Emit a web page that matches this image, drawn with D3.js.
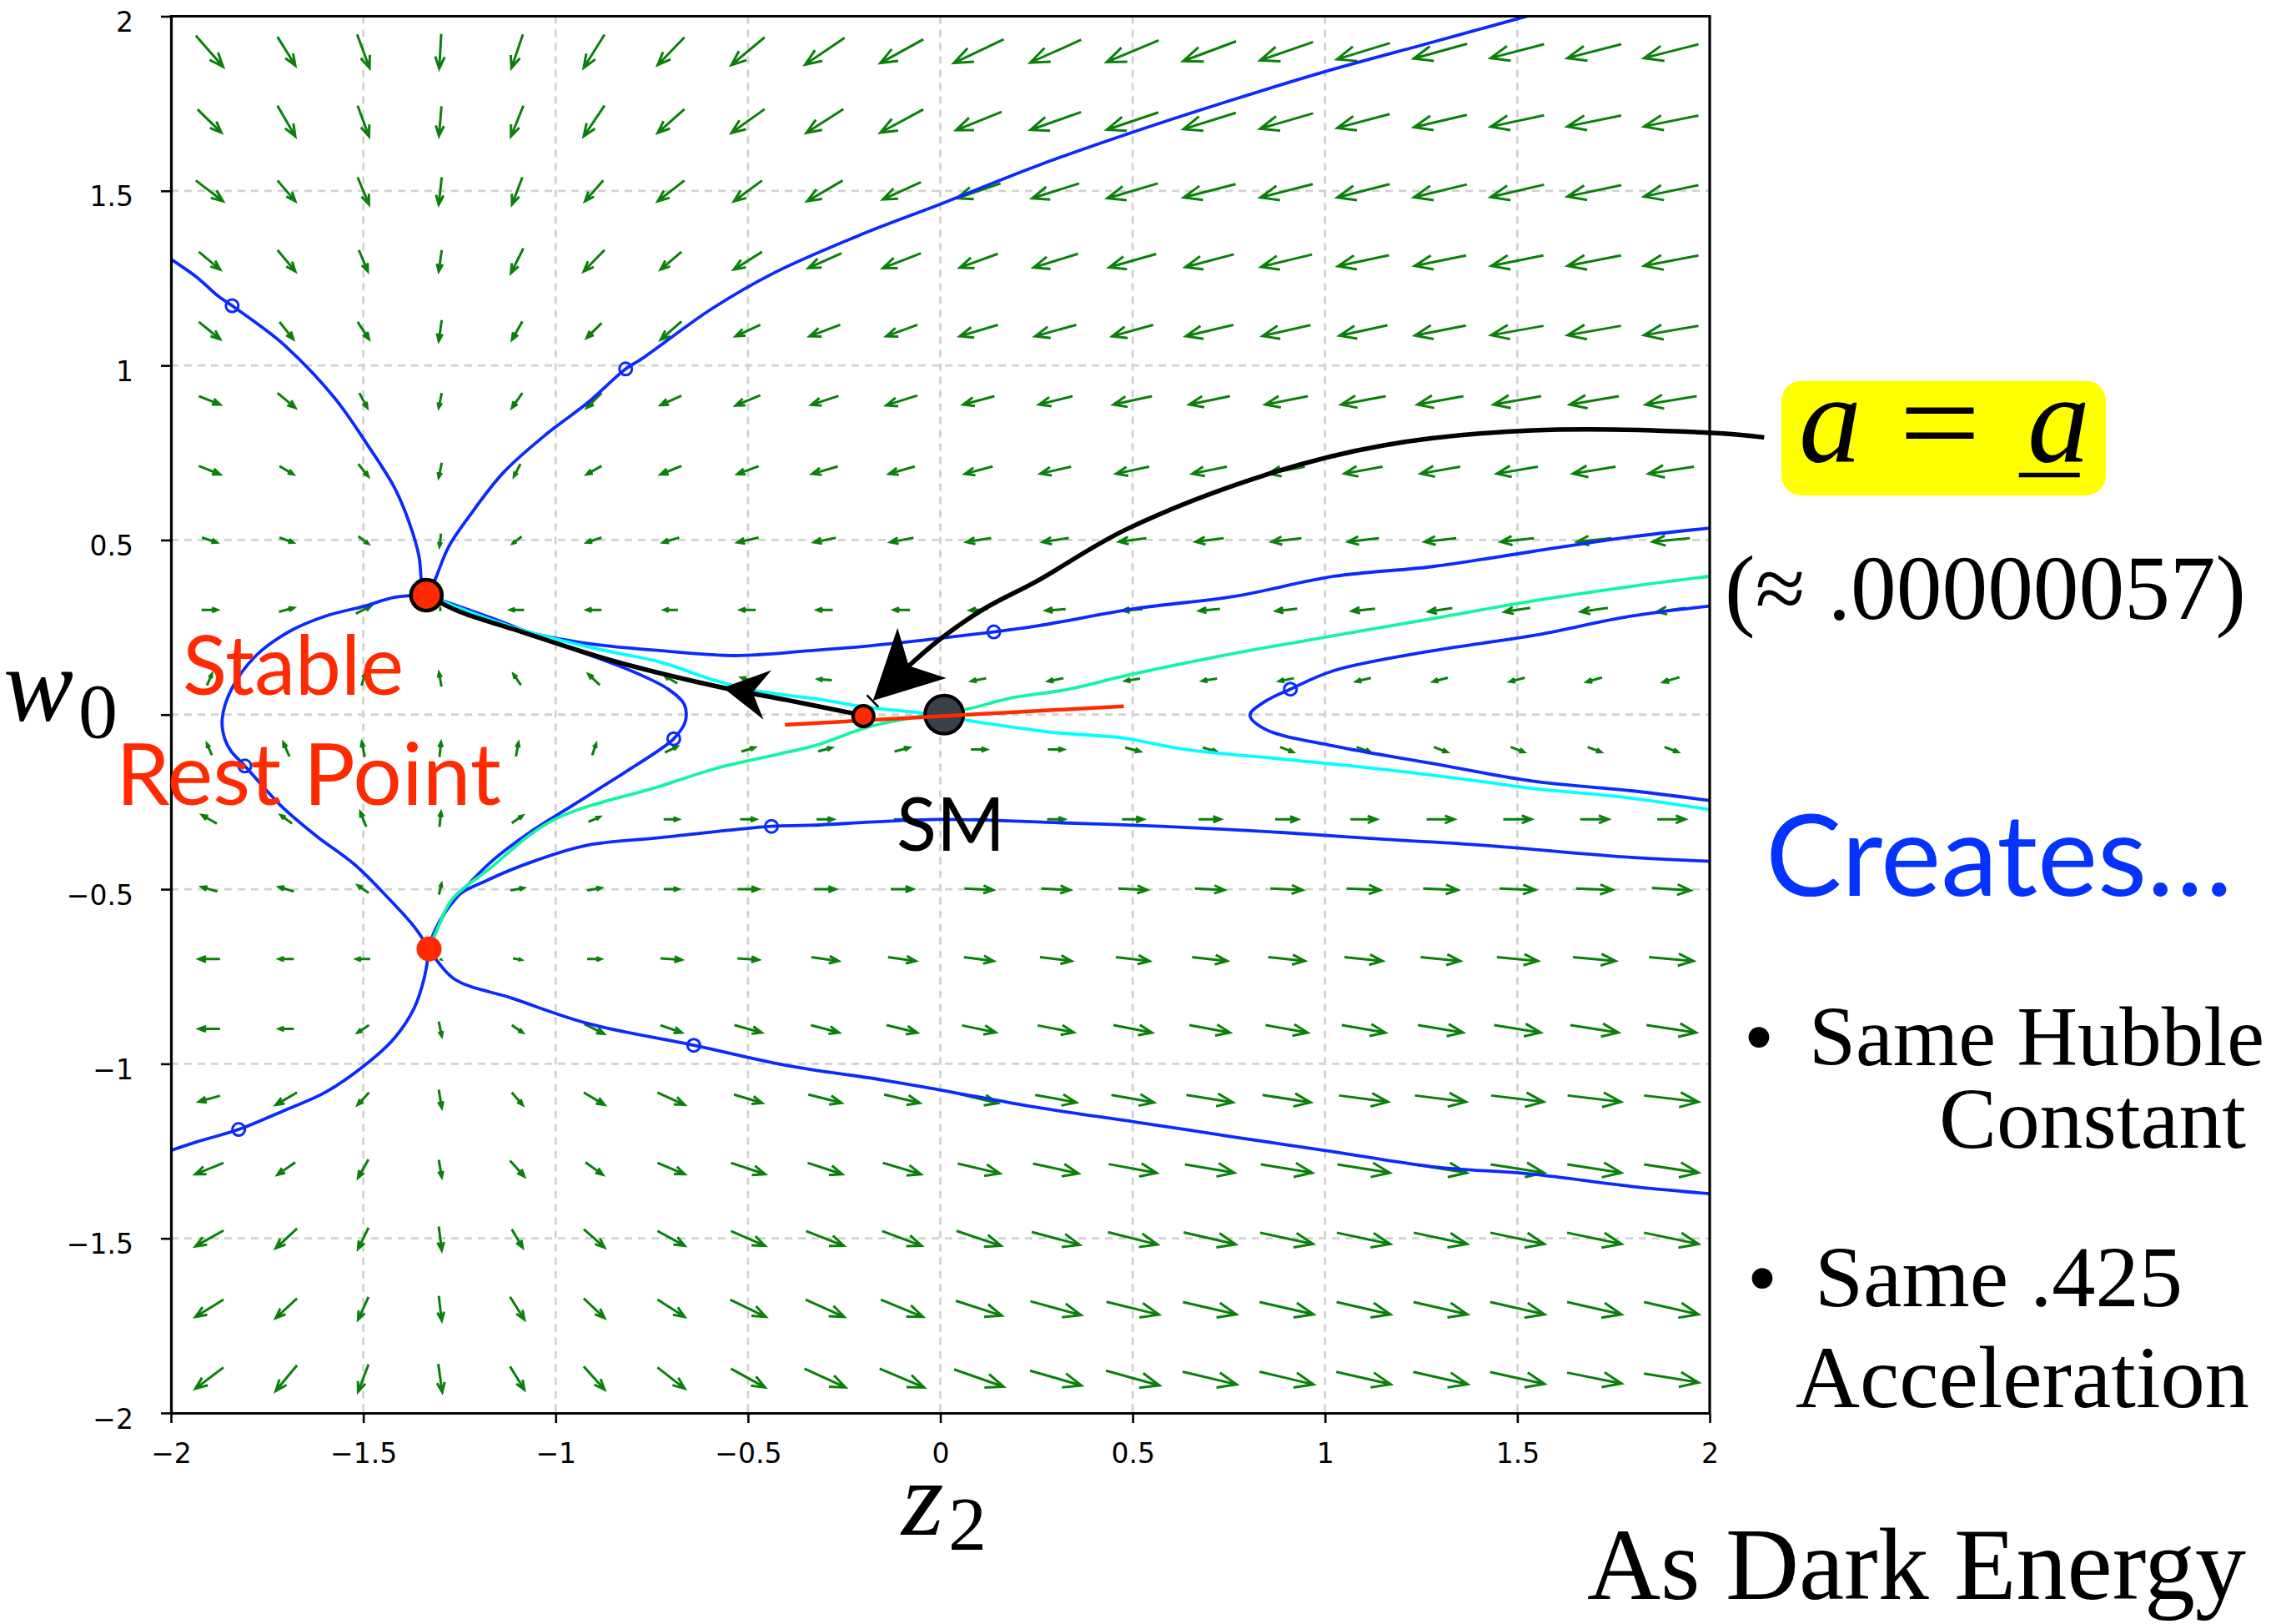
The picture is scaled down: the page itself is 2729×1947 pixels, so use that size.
<!DOCTYPE html>
<html><head><meta charset="utf-8">
<script src="https://cdn.jsdelivr.net/npm/d3@7"></script>
<style>body{margin:0;background:#fff}svg{display:block}</style>
</head><body>
<svg id="c" width="2729" height="1947"></svg>
<script>
// ---------------- DATA ----------------
const zCols = [-1.9,-1.7,-1.5,-1.3,-1.1,-0.9,-0.7,-0.5,-0.3,-0.1,0.1,0.3,0.5,0.7,0.9,1.1,1.3,1.5,1.7,1.9];
const wRows = [1.9,1.7,1.5,1.3,1.1,0.9,0.7,0.5,0.3,0.1,-0.1,-0.3,-0.5,-0.7,-0.9,-1.1,-1.3,-1.5,-1.7,-1.9];
// field components (dz, dw) read from the arrows, arbitrary units
const U = [
[5.5,3.6,2.5,-0.4,-2.3,-4.2,-5.4,-6.7,-8.0,-8.7,-10.1,-10.3,-10.5,-10.7,-10.7,-10.7,-10.8,-10.8,-10.9,-11.0],
[4.8,3.6,2.3,-0.5,-2.5,-4.2,-5.4,-6.7,-7.5,-8.7,-9.2,-10.2,-10.4,-10.6,-10.7,-10.6,-10.7,-10.8,-10.9,-11.0],
[5.5,3.6,2.3,-0.6,-2.1,-3.7,-5.4,-5.7,-7.2,-7.7,-8.8,-9.5,-10.2,-10.5,-10.6,-10.6,-10.7,-10.8,-10.9,-11.0],
[4.3,3.6,1.8,-0.6,-2.5,-4.2,-4.2,-5.7,-6.7,-7.7,-7.7,-9.0,-9.5,-9.8,-10.3,-10.3,-10.4,-10.5,-10.8,-11.0],
[4.3,2.8,2.3,-0.6,-2.1,-3.0,-4.2,-5.0,-6.2,-6.3,-7.7,-8.3,-8.3,-9.6,-9.7,-9.7,-10.3,-10.6,-10.8,-11.0],
[4.3,3.6,1.6,-0.6,-2.1,-3.0,-4.2,-5.0,-5.5,-6.3,-6.3,-6.8,-7.8,-8.2,-8.6,-9.0,-9.3,-9.6,-9.9,-10.3],
[4.3,2.8,2.0,-0.6,-1.3,-3.0,-4.2,-4.3,-5.2,-5.2,-5.6,-6.2,-6.7,-7.0,-7.4,-7.7,-8.0,-8.3,-8.6,-9.2],
[3.0,2.8,2.0,-0.3,-1.8,-3.0,-3.3,-4.3,-4.4,-4.7,-5.0,-5.3,-5.5,-5.7,-6.0,-6.2,-6.4,-6.7,-7.0,-7.5],
[3.2,3.0,3.0,0.0,-2.8,-3.0,-2.8,-3.1,-3.2,-3.3,-3.6,-4.0,-4.0,-4.2,-4.3,-4.7,-4.8,-5.2,-5.5,-5.8],
[1.0,0.9,0.7,-0.5,-1.5,-2.3,-2.5,-2.7,-2.8,-2.8,-3.0,-3.1,-3.0,-3.0,-3.0,-3.0,-3.0,-3.0,-3.1,-3.3],
[-1.0,-1.2,-0.6,0.3,0.5,0.8,2.5,2.7,2.7,3.0,3.2,3.2,3.0,2.8,2.6,2.8,2.7,2.7,2.7,2.7],
[-3.0,-2.3,-1.2,0.3,2.2,2.3,3.0,3.2,3.4,3.2,3.2,3.5,4.3,4.5,4.6,5.3,5.6,5.7,5.7,5.7],
[-3.2,-3.0,-2.2,0.5,2.7,2.8,3.0,4.2,4.3,4.5,5.8,5.8,5.8,6.0,6.5,6.8,7.0,7.2,7.4,7.8],
[-4.3,-3.0,-2.8,0.2,1.7,2.8,4.3,4.3,5.5,5.6,6.0,6.4,6.8,7.1,7.4,7.7,8.0,8.3,8.6,9.0],
[-4.3,-3.0,-2.3,0.6,2.2,4.0,4.3,5.5,5.7,6.2,6.8,7.3,7.8,8.2,8.5,8.8,9.1,9.4,9.7,10.0],
[-4.3,-4.3,-2.3,0.6,2.2,4.2,5.5,5.7,6.7,7.2,7.7,8.3,8.6,9.4,9.7,9.9,10.3,10.6,10.8,11.0],
[-5.7,-3.6,-2.1,0.6,2.9,3.5,5.5,6.9,7.0,7.7,8.5,9.2,9.7,10.0,10.4,10.6,10.7,10.8,10.9,11.0],
[-5.7,-4.3,-2.1,0.6,2.2,4.2,5.5,6.9,7.6,8.0,9.0,9.7,10.0,10.5,10.7,10.8,10.8,10.9,11.0,11.0],
[-5.7,-4.3,-2.1,0.6,2.9,4.2,5.5,7.2,7.8,8.5,9.3,10.2,10.6,10.8,10.9,10.9,10.9,11.0,11.0,11.0],
[-5.7,-4.3,-2.1,0.8,2.9,4.2,5.5,6.9,8.3,9.0,10.0,10.4,10.8,10.9,10.9,11.0,11.0,11.0,11.0,11.0]
];
const V = [
[-6.3,-5.8,-6.8,-7.0,-6.8,-6.7,-5.6,-5.6,-5.4,-4.8,-4.8,-4.6,-4.4,-4.0,-3.7,-3.3,-3.0,-2.8,-2.8,-2.8],
[-4.7,-6.2,-6.2,-6.0,-6.2,-6.2,-4.8,-4.8,-4.8,-4.7,-3.7,-3.6,-3.5,-3.3,-3.1,-2.8,-2.5,-2.3,-2.2,-2.2],
[-4.2,-4.2,-5.5,-5.5,-5.5,-4.2,-4.2,-4.2,-4.2,-3.5,-3.0,-3.0,-3.0,-2.7,-2.7,-2.7,-2.6,-2.5,-2.3,-2.3],
[-3.6,-4.3,-4.3,-4.3,-5.0,-4.3,-3.6,-3.6,-3.0,-3.0,-2.8,-2.8,-2.7,-2.6,-2.5,-2.2,-2.1,-2.1,-2.1,-2.1],
[-3.5,-3.5,-3.5,-4.2,-3.7,-3.0,-3.7,-2.3,-2.3,-2.3,-2.3,-2.3,-2.3,-2.3,-2.2,-2.1,-2.0,-1.9,-1.9,-1.9],
[-1.7,-3.0,-3.0,-3.0,-3.0,-3.0,-1.9,-2.1,-1.8,-2.0,-1.7,-1.7,-1.7,-1.7,-1.7,-1.7,-1.7,-1.7,-1.7,-1.7],
[-1.7,-1.7,-2.5,-3.0,-2.5,-1.7,-1.7,-1.6,-1.5,-1.5,-1.5,-1.4,-1.4,-1.4,-1.4,-1.4,-1.4,-1.4,-1.4,-1.4],
[-1.0,-1.0,-1.5,-2.6,-1.4,-1.0,-1.0,-1.0,-0.9,-0.9,-0.8,-0.8,-0.7,-0.7,-0.7,-0.7,-0.7,-0.7,-0.7,-0.7],
[0.0,0.8,1.5,0.5,0.0,0.0,0.0,0.0,0.0,0.0,-0.2,-0.3,-0.3,-0.4,-0.5,-0.5,-0.7,-0.8,-0.8,-0.8],
[2.3,2.2,2.4,2.8,2.2,2.2,1.5,0.8,0.2,0.0,-0.6,-0.6,-0.5,-0.5,-0.6,-0.7,-0.8,-0.8,-0.9,-1.0],
[2.3,2.8,3.0,3.0,2.8,2.3,1.2,0.8,0.7,0.8,0.0,0.0,-0.8,-0.8,-1.0,-1.0,-1.0,-1.0,-1.0,-1.0],
[1.7,1.7,3.0,3.0,1.5,1.0,0.0,0.0,0.0,0.0,0.0,0.0,0.0,0.0,0.0,0.0,0.0,0.0,0.0,0.0],
[0.9,0.9,1.5,2.2,0.5,0.5,0.0,0.0,0.0,0.0,-0.3,-0.3,-0.3,-0.3,-0.3,-0.3,-0.3,-0.3,-0.3,-0.5],
[0.0,0.0,0.0,-0.1,-0.3,0.0,-0.3,-0.3,-0.8,-0.8,-0.8,-0.8,-0.8,-0.8,-0.8,-0.8,-0.8,-0.8,-0.8,-0.8],
[0.0,0.0,-1.5,-3.0,-1.5,-2.0,-1.5,-1.5,-1.5,-1.5,-1.4,-1.4,-1.5,-1.5,-1.5,-1.5,-1.5,-1.5,-1.5,-1.5],
[-1.2,-2.5,-2.5,-3.7,-2.5,-2.5,-2.5,-1.7,-1.7,-1.7,-1.8,-1.5,-1.5,-1.5,-1.5,-1.3,-1.3,-1.3,-1.3,-1.3],
[-2.3,-2.5,-3.7,-3.5,-3.2,-2.5,-2.3,-2.3,-2.3,-2.3,-2.0,-2.0,-1.8,-1.7,-1.7,-1.7,-1.7,-1.7,-1.7,-1.7],
[-3.2,-4.0,-4.3,-4.8,-3.7,-3.7,-3.0,-3.0,-3.0,-3.0,-3.0,-2.6,-2.5,-2.4,-2.3,-2.3,-2.3,-2.3,-2.3,-2.3],
[-3.5,-4.0,-4.6,-5.0,-4.6,-4.0,-3.5,-3.5,-3.5,-3.5,-3.0,-2.8,-2.6,-2.5,-2.5,-2.5,-2.5,-2.5,-2.5,-2.5],
[-4.3,-5.2,-5.5,-5.7,-4.7,-4.7,-4.3,-3.8,-3.8,-3.8,-3.5,-3.0,-3.0,-2.6,-2.6,-2.5,-2.5,-2.4,-2.2,-1.8]
];
const xTicks = [-2,-1.5,-1,-0.5,0,0.5,1,1.5,2];
const yTicks = [-2,-1.5,-1,-0.5,0,0.5,1,1.5,2];
const xTickLabels = ["\u22122","\u22121.5","\u22121","\u22120.5","0","0.5","1","1.5","2"];
const yTickLabels = ["\u22122","\u22121.5","\u22121","\u22120.5","","0.5","1","1.5","2"];
const gridZ = [-1.5,-1,-0.5,0,0.5,1,1.5];
const gridW = [-1.5,-1,-0.5,0,0.5,1,1.5];

// trajectories (z2, w0)
const curveA = [[-1.997,1.302],[-1.93,1.25],[-1.882,1.203],[-1.841,1.171],[-1.77,1.115],[-1.702,1.055],[-1.574,0.906],[-1.484,0.764],[-1.419,0.65],[-1.381,0.551],[-1.355,0.452],[-1.349,0.382],[-1.343,0.35]];
const curveB = [[1.537,2.004],[1.28,1.926],[0.998,1.841],[0.766,1.763],[0.508,1.671],[0.252,1.572],[0.0,1.462],[-0.21,1.373],[-0.429,1.267],[-0.596,1.161],[-0.776,1.019],[-0.818,0.99],[-0.918,0.892],[-1.021,0.806],[-1.136,0.693],[-1.226,0.566],[-1.278,0.481],[-1.31,0.396],[-1.325,0.355]];
const loopLeft = [[-1.336,0.342],[-1.419,0.336],[-1.496,0.311],[-1.599,0.282],[-1.689,0.24],[-1.779,0.169],[-1.844,0.07],[-1.867,-0.015],[-1.86,-0.07],[-1.844,-0.104],[-1.808,-0.147],[-1.715,-0.26],[-1.625,-0.345],[-1.522,-0.43],[-1.432,-0.529],[-1.368,-0.607],[-1.329,-0.671]];
const loopRight = [[-1.329,-0.671],[-1.323,-0.643],[-1.291,-0.572],[-1.239,-0.501],[-1.162,-0.416],[-1.059,-0.331],[-0.956,-0.26],[-0.854,-0.189],[-0.725,-0.097],[-0.693,-0.069],[-0.663,-0.02],[-0.666,0.03],[-0.709,0.074],[-0.792,0.12],[-0.875,0.156],[-1.0,0.205],[-1.15,0.27],[-1.336,0.342]];
const curveD = [[-2.01,-1.252],[-1.934,-1.224],[-1.824,-1.188],[-1.702,-1.132],[-1.599,-1.082],[-1.496,-1.004],[-1.419,-0.926],[-1.368,-0.841],[-1.342,-0.756],[-1.329,-0.671]];
const curveE = [[-1.336,0.342],[-1.214,0.29],[-1.085,0.24],[-0.918,0.204],[-0.725,0.183],[-0.532,0.169],[-0.339,0.183],[-0.185,0.197],[0.0,0.219],[0.139,0.237],[0.252,0.254],[0.509,0.304],[0.766,0.339],[1.023,0.396],[1.28,0.424],[1.538,0.467],[1.795,0.509],[2.007,0.535]];
const curveH = [[2.0,0.311],[1.795,0.282],[1.538,0.226],[1.28,0.183],[1.023,0.126],[0.91,0.073],[0.84,0.035],[0.805,-0.001],[0.843,-0.041],[1.023,-0.09],[1.28,-0.14],[1.538,-0.19],[1.795,-0.218],[2.0,-0.246]];
const curveI = [[-1.329,-0.671],[-1.265,-0.529],[-1.175,-0.473],[-1.047,-0.416],[-0.918,-0.374],[-0.725,-0.352],[-0.439,-0.32],[-0.339,-0.317],[-0.005,-0.3],[0.316,-0.31],[0.573,-0.32],[0.895,-0.338],[1.152,-0.357],[1.409,-0.374],[1.795,-0.409],[2.0,-0.42]];
const curveJ = [[-1.329,-0.671],[-1.265,-0.756],[-1.111,-0.813],[-0.918,-0.884],[-0.641,-0.947],[-0.403,-1.004],[-0.146,-1.047],[0.0,-1.075],[0.252,-1.125],[0.509,-1.167],[0.766,-1.21],[1.023,-1.252],[1.28,-1.295],[1.538,-1.316],[1.795,-1.351],[2.0,-1.372]];
const blueCurves = [curveA, curveB, loopLeft, loopRight, curveD, curveE, curveH, curveI, curveJ];
const cyanCurve = [[-1.336,0.342],[-1.11,0.25],[-0.9,0.19],[-0.727,0.15],[-0.598,0.102],[-0.488,0.07],[-0.322,0.045],[-0.183,0.02],[-0.045,0.004],[0.114,-0.024],[0.294,-0.051],[0.475,-0.067],[0.638,-0.1],[0.895,-0.128],[1.152,-0.157],[1.409,-0.192],[1.538,-0.211],[1.795,-0.239],[2.0,-0.272]];
const greenCurve = [[-1.329,-0.671],[-1.31,-0.62],[-1.27,-0.53],[-1.175,-0.444],[-1.008,-0.303],[-0.725,-0.204],[-0.583,-0.154],[-0.428,-0.115],[-0.32,-0.087],[-0.19,-0.036],[-0.067,-0.008],[0.07,0.016],[0.185,0.048],[0.33,0.072],[0.483,0.112],[0.766,0.176],[1.023,0.226],[1.28,0.275],[1.538,0.325],[1.795,0.367],[2.0,0.396]];
const markers = [[-1.841,1.171],[-0.818,0.99],[0.139,0.237],[0.91,0.073],[-0.693,-0.069],[-1.808,-0.147],[-0.439,-0.32],[-0.641,-0.947],[-1.824,-1.188]];

const stablePoint = [-1.336,0.342];
const saddlePoint = [-1.329,-0.671];
const aPoint = [-0.2,-0.004];
const smPoint = [0.01,0.0];
const redSegment = [[-0.404,-0.029],[0.477,0.024]];
const arrowPath1 = [[-0.233,0.005],[-0.4,0.042],[-0.565,0.077],[-0.854,0.155],[-1.111,0.245],[-1.25,0.295],[-1.336,0.342]];
const arrowHead1 = {tip:[-0.565,0.077], from:[-0.486,0.063]};
const arrowPath2 = [[2.1416,0.794],[2.0065,0.807],[1.538,0.814],[1.152,0.771],[0.8436,0.686],[0.4824,0.530],[0.2504,0.382],[0.1138,0.303],[-0.0054,0.212],[-0.0856,0.136]];
const arrowHead2 = {tip:[-0.1752,0.040], from:[-0.0856,0.136]};
const tinyTick = [[-0.191,0.056],[-0.161,0.022]];

const txtStable = "Stable", txtRest = "Rest Point", txtSM = "SM";
const txtCreates = "Creates\u2026", txtApprox = "(\u2248 .00000057)";
const txtB1 = ["Same Hubble","Constant"], txtB2 = ["Same .425","Acceleration"];
const txtFooter = "As Dark Energy";

// ---------------- DRAW ----------------
const svg = d3.select("#c");
svg.append("rect").attr("width",2729).attr("height",1947).attr("fill","#fff");
const x = d3.scaleLinear().domain([-2,2]).range([205,2050]);
const y = d3.scaleLinear().domain([-2,2]).range([1694,19.5]);
const q = d3.scaleLinear().domain([0,1]).range([0,5.93]);

svg.append("defs").append("clipPath").attr("id","plotclip").append("rect")
  .attr("x",x(-2)).attr("y",y(2)).attr("width",x(2)-x(-2)).attr("height",y(-2)-y(2));

// grid
const grid = svg.append("g").attr("stroke","#d2d2d2").attr("stroke-width",2.8).attr("stroke-dasharray","9,7");
gridZ.forEach(v=>grid.append("line").attr("x1",x(v)).attr("x2",x(v)).attr("y1",y(2)).attr("y2",y(-2)));
gridW.forEach(v=>grid.append("line").attr("y1",y(v)).attr("y2",y(v)).attr("x1",x(-2)).attr("x2",x(2)));

// quiver
const qd = [];
wRows.forEach((w,j)=>zCols.forEach((z,k)=>{
  const cx=x(z), cy=y(w), dx=q(U[j][k]), dy=-q(V[j][k]);
  const x0=cx-dx/2,y0=cy-dy/2,x1=cx+dx/2,y1=cy+dy/2,a=0.34,b=0.4;
  const h1=[x1-a*(dx+b*dy), y1-a*(dy-b*dx)], h2=[x1-a*(dx-b*dy), y1-a*(dy+b*dx)];
  qd.push(`M${x0},${y0}L${x1},${y1}M${h1[0]},${h1[1]}L${x1},${y1}L${h2[0]},${h2[1]}`);
}));
svg.append("g").selectAll("path").data(qd).join("path").attr("d",d=>d)
  .attr("fill","none").attr("stroke","#0a800a").attr("stroke-width",3).attr("stroke-linecap","butt").attr("stroke-linejoin","miter");

// trajectories
const line = d3.line().x(d=>x(d[0])).y(d=>y(d[1])).curve(d3.curveCatmullRom.alpha(0.5));
const tg = svg.append("g").attr("clip-path","url(#plotclip)").attr("fill","none").attr("stroke-width",3.8).attr("stroke-linejoin","round");
blueCurves.forEach(c=>tg.append("path").attr("d",line(c)).attr("stroke","#0a2aff"));
tg.append("path").attr("d",line(greenCurve)).attr("stroke","#14f5a0");
tg.append("path").attr("d",line(cyanCurve)).attr("stroke","#00ffff");
tg.selectAll("circle").data(markers).join("circle").attr("cx",d=>x(d[0])).attr("cy",d=>y(d[1]))
  .attr("r",7.5).attr("fill","none").attr("stroke","#0a2aff").attr("stroke-width",3);

// axes
const gx = svg.append("g").attr("transform",`translate(0,${y(-2)})`)
  .call(d3.axisBottom(x).tickValues(xTicks).tickSize(12).tickSizeOuter(0).tickFormat((d,i)=>xTickLabels[i]));
const gy = svg.append("g").attr("transform",`translate(${x(-2)},0)`)
  .call(d3.axisLeft(y).tickValues(yTicks).tickSize(12).tickSizeOuter(0).tickFormat((d,i)=>yTickLabels[i]));
[gx,gy].forEach(g=>{
  g.select(".domain").attr("stroke","#000").attr("stroke-width",3.2);
  g.selectAll(".tick line").attr("stroke","#000").attr("stroke-width",2.6);
  g.selectAll(".tick text").attr("fill","#000").attr("font-family","DejaVu Sans, sans-serif").attr("font-size",33);
});
gx.selectAll(".tick text").attr("y",60).attr("dy",null);
gy.selectAll(".tick text").attr("x",-45).attr("y",18).attr("dy",null);
svg.append("line").attr("x1",x(-2)-1.5).attr("x2",x(2)+1.5).attr("y1",y(2)).attr("y2",y(2)).attr("stroke","#000").attr("stroke-width",3.2);
svg.append("line").attr("x1",x(2)).attr("x2",x(2)).attr("y1",y(2)).attr("y2",y(-2)).attr("stroke","#000").attr("stroke-width",3.2);

// arrow annotations
function head(spec,len,half,notch){
  const tx=x(spec.tip[0]),ty=y(spec.tip[1]),fx=x(spec.from[0]),fy=y(spec.from[1]);
  let ux=tx-fx,uy=ty-fy; const L=Math.hypot(ux,uy); ux/=L; uy/=L;
  const nx=-uy,ny=ux;
  const p=[[tx,ty],[tx-ux*len+nx*half,ty-uy*len+ny*half],[tx-ux*notch,ty-uy*notch],[tx-ux*len-nx*half,ty-uy*len-ny*half]];
  return "M"+p.map(d=>d.join(",")).join("L")+"Z";
}
const lineS = d3.line().x(d=>x(d[0])).y(d=>y(d[1])).curve(d3.curveCatmullRom.alpha(0.5));
svg.append("path").attr("d",lineS(arrowPath1)).attr("fill","none").attr("stroke","#000").attr("stroke-width",5.5).attr("stroke-linecap","round");
svg.append("path").attr("d",head(arrowHead1,54,30,36)).attr("fill","#000");
svg.append("path").attr("d",lineS(arrowPath2)).attr("fill","none").attr("stroke","#000").attr("stroke-width",5.5);
svg.append("path").attr("d",head(arrowHead2,82,42,60)).attr("fill","#000");
svg.append("line").attr("x1",x(tinyTick[0][0])).attr("y1",y(tinyTick[0][1])).attr("x2",x(tinyTick[1][0])).attr("y2",y(tinyTick[1][1])).attr("stroke","#000").attr("stroke-width",2.5);

// points
svg.append("circle").attr("cx",x(smPoint[0])).attr("cy",y(smPoint[1])).attr("r",23).attr("fill","#3a414b").attr("stroke","#000").attr("stroke-width",4);
svg.append("line").attr("x1",x(redSegment[0][0])).attr("y1",y(redSegment[0][1])).attr("x2",x(redSegment[1][0])).attr("y2",y(redSegment[1][1])).attr("stroke","#ff2a00").attr("stroke-width",4.5);
svg.append("circle").attr("cx",x(aPoint[0])).attr("cy",y(aPoint[1])).attr("r",12.5).attr("fill","#ff2a00").attr("stroke","#000").attr("stroke-width",4);
svg.append("circle").attr("cx",x(stablePoint[0])).attr("cy",y(stablePoint[1])).attr("r",18.5).attr("fill","#ff2a00").attr("stroke","#000").attr("stroke-width",4.5);
svg.append("circle").attr("cx",x(saddlePoint[0])).attr("cy",y(saddlePoint[1])).attr("r",15).attr("fill","#ff2a00");

// texts
function fitW(t,w){ const L=t.node().getComputedTextLength(); const fs=parseFloat(t.attr("font-size")); t.attr("font-size",fs*w/L); return t; }
const sans = "Lato, 'Open Sans', sans-serif", serif = "'Liberation Serif', 'DejaVu Serif', serif";
function T(str,px,py,fs,fam,col,extra){ const t=svg.append("text").attr("x",px).attr("y",py).attr("font-size",fs).attr("font-family",fam).attr("fill",col||"#000").text(str); if(extra) extra(t); return t; }

fitW(T(txtStable,219,833,103,sans,"#ff2a00"),265);
fitW(T(txtRest,139,965,103,sans,"#ff2a00"),462);
fitW(T(txtSM,1075,1020,105,sans,"#000"),130);

// axis labels (math)
T("w",4,864,126,serif,"#000",t=>t.attr("font-style","italic"));
T("0",94,884,94,serif,"#000");
T("z",1081,1840,130,serif,"#000",t=>t.attr("font-style","italic"));
T("2",1137,1858,92,serif,"#000");

// yellow box
svg.append("rect").attr("x",2136).attr("y",456.5).attr("width",389).attr("height",137.6).attr("rx",24).attr("fill","#ffff00");
T("a",2157,553,150,serif,"#000",t=>t.attr("font-style","italic"));
T("=",2277,557,150,serif,"#000",t=>t.attr("textLength",98).attr("lengthAdjust","spacingAndGlyphs"));
T("a",2431,553,150,serif,"#000",t=>t.attr("font-style","italic"));
svg.append("line").attr("x1",2420.7).attr("x2",2493.7).attr("y1",569.5).attr("y2",569.5).attr("stroke","#000").attr("stroke-width",5.5);

fitW(T(txtApprox,2068,741.5,105,serif,"#000"),625);
fitW(T(txtCreates,2117,1074,132,sans,"#0433ff"),560);

T("\u2022",2109,1252+26,104,serif,"#000",t=>t.attr("text-anchor","middle"));
fitW(T(txtB1[0],2169,1276.5,100,serif,"#000"),546);
fitW(T(txtB1[1],2325,1375.5,100,serif,"#000"),368);
T("\u2022",2113,1540.5+26,104,serif,"#000",t=>t.attr("text-anchor","middle"));
fitW(T(txtB2[0],2176,1566,100,serif,"#000"),441);
fitW(T(txtB2[1],2153,1687,100,serif,"#000"),544);
fitW(T(txtFooter,1903,1917,120,serif,"#000"),790);
</script>
</body></html>
